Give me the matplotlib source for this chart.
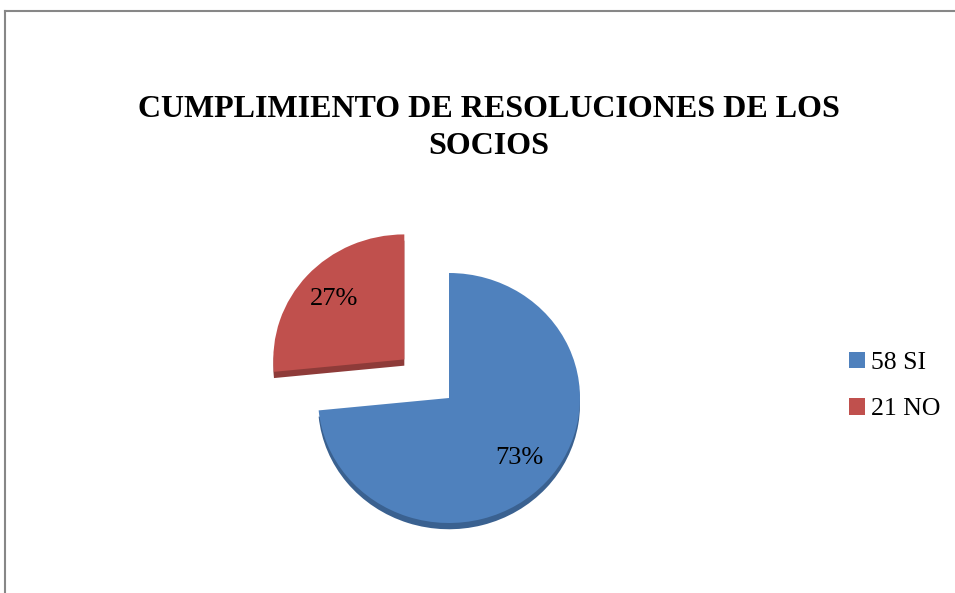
import matplotlib.pyplot as plt
from matplotlib.lines import Line2D

# datos
categorias = ['SI', 'NO']
socios = [58, 21]
colores = ['#4F81BD', '#C0504D']
colores_borde = ['#3A6190', '#8E3B39']
separacion = [0, 0.46]
titulo = 'CUMPLIMIENTO DE RESOLUCIONES DE LOS\nSOCIOS'

etiquetas = [str(n) + ' ' + c for n, c in zip(socios, categorias)]

plt.rcParams['font.family'] = ['Liberation Serif', 'DejaVu Serif']

fig = plt.figure(figsize=(9.55, 5.93), dpi=100)
W, H = 955, 593

# ejes: centro del pastel en (449, 398) px, radio ~131 px horiz, ~125 px vert
cx, cy = 449, 398
sx, sy = 131, 125
lim = 1.6
ax = fig.add_axes([(cx - lim * sx) / W, (H - cy - lim * sy) / H,
                   2 * lim * sx / W, 2 * lim * sy / H])

# espesor (sombra inferior)
ax.pie(socios, colors=colores_borde, explode=separacion, startangle=90,
       counterclock=False, center=(0, -0.05), wedgeprops=dict(linewidth=0))

wedges, textos, autotextos = ax.pie(
    socios, colors=colores, explode=separacion, startangle=90,
    counterclock=False, autopct='%1.0f%%', pctdistance=0.72,
    wedgeprops=dict(linewidth=0),
    textprops=dict(fontsize=19, color='black'))

ax.set_aspect('auto')
ax.set_xlim(-lim, lim)
ax.set_ylim(-lim, lim)

fig.text(489 / W, 1 - 128 / H, titulo, ha='center', va='center',
         fontsize=23, fontweight='bold', linespacing=1.38)

fig.legend(wedges, etiquetas, loc='center left',
           bbox_to_anchor=(839 / W, 1 - 386 / H), frameon=False,
           fontsize=18.5, handlelength=0.6, handleheight=0.6,
           handletextpad=0.25, labelspacing=0.95, borderaxespad=0)

# marco del grafico
fig.add_artist(Line2D([5 / W, 5 / W], [0, 1 - 11 / H], color='#878787',
                      linewidth=1.5, transform=fig.transFigure))
fig.add_artist(Line2D([5 / W, 1], [1 - 11 / H, 1 - 11 / H], color='#878787',
                      linewidth=1.5, transform=fig.transFigure))

fig.savefig('out.png', dpi=100)
